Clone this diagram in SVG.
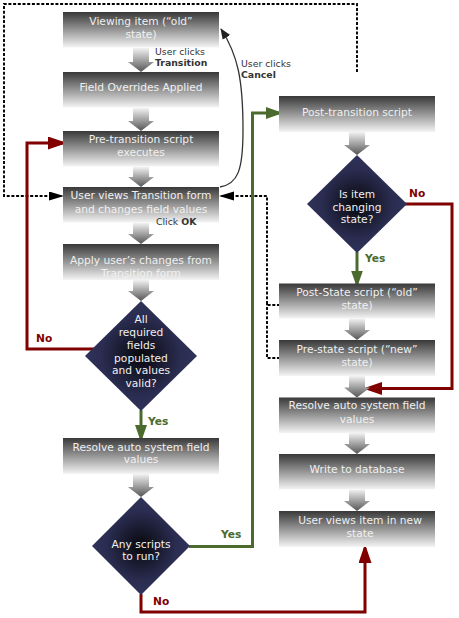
<svg xmlns="http://www.w3.org/2000/svg" width="459" height="618" viewBox="0 0 459 618">
<defs>
<linearGradient id="boxG" x1="0" y1="0" x2="0" y2="1">
<stop offset="0" stop-color="#383838"/>
<stop offset="1" stop-color="#f4f4f4"/>
</linearGradient>
<linearGradient id="arrG" x1="0" y1="0" x2="0" y2="1">
<stop offset="0" stop-color="#f2f2f2"/>
<stop offset="1" stop-color="#555555"/>
</linearGradient>
<radialGradient id="diaG" cx="0.5" cy="0.5" r="0.5">
<stop offset="0" stop-color="#08080c"/>
<stop offset="0.7" stop-color="#2a2c50"/>
<stop offset="1" stop-color="#30335a"/>
</radialGradient>
<marker id="mRed" markerUnits="userSpaceOnUse" markerWidth="20" markerHeight="14" refX="15" refY="6.5" orient="auto">
<path d="M0,0 L19,6.5 L0,13 Z" fill="#800000"/>
</marker>
<marker id="mGreen" markerUnits="userSpaceOnUse" markerWidth="18" markerHeight="13" refX="13" refY="6" orient="auto">
<path d="M0,0 L17,6 L0,12 Z" fill="#4b6a2e"/>
</marker>
<marker id="mBlack" markerUnits="userSpaceOnUse" markerWidth="16" markerHeight="10" refX="14" refY="4.5" orient="auto">
<path d="M0,0 L15,4.5 L0,9 Z" fill="#000"/>
</marker>
<marker id="mCancel" markerUnits="userSpaceOnUse" markerWidth="12" markerHeight="10" refX="10" refY="4.5" orient="auto">
<path d="M0,0 L11,4.5 L0,9 Z" fill="#222"/>
</marker>
</defs>
<style>
.box{fill:url(#boxG)}
.dia{fill:url(#diaG)}
.ga{fill:url(#arrG)}
text{font-family:"DejaVu Sans","Liberation Sans",sans-serif}
.bt{font-size:10.67px;fill:#f0f0f0;text-anchor:middle}
.note{font-size:9.33px;fill:#333}
.b{font-weight:bold}
.no{font-size:10.67px;font-weight:bold;fill:#800000}
.yes{font-size:10.67px;font-weight:bold;fill:#4b6a2e}
.red{fill:none;stroke:#800000;stroke-width:3}
.green{fill:none;stroke:#4b6a2e;stroke-width:3}
.dot{fill:none;stroke:#000;stroke-width:1.9;stroke-dasharray:3 1.7}
.cancel{fill:none;stroke:#333;stroke-width:1.3}
</style>

<g id="connectors">
<path class="dot" d="M357,72 V4 H4 V196 H63" marker-end="url(#mBlack)"/>
<path class="dot" d="M280,305 H267 V196 H220" marker-end="url(#mBlack)"/>
<path class="dot" d="M280,358 H267 V304"/>
<path class="cancel" d="M220,187 C238,184 243,170 243,130 C243,80 238,55 221,29" marker-end="url(#mCancel)"/>
<path class="red" d="M95,349 H27 V143 H63" marker-end="url(#mRed)"/>
<path class="red" d="M405,204 H452 V388.5 H367" marker-end="url(#mRed)"/>
<path class="red" d="M141,594 V612 H365 V548" marker-end="url(#mRed)"/>
<path class="green" d="M141,410 V438" marker-end="url(#mGreen)"/>
<path class="green" d="M189,546.5 H252.5 V113 H279" marker-end="url(#mGreen)"/>
<path class="green" d="M357,252 V283.5" marker-end="url(#mGreen)"/>
<polygon class="ga" points="133,48 149,48 149,62 154,62 141,72 128,62 133,62"/>
<polygon class="ga" points="133,108 149,108 149,121 154,121 141,131 128,121 133,121"/>
<polygon class="ga" points="133,167 149,167 149,177 154,177 141,187 128,177 133,177"/>
<polygon class="ga" points="133,223 149,223 149,234 154,234 141,244 128,234 133,234"/>
<polygon class="ga" points="133,280 149,280 149,291 154,291 141,301 128,291 133,291"/>
<polygon class="ga" points="133,474 149,474 149,487 154,487 141,497 128,487 133,487"/>
<polygon class="ga" points="349,132 365,132 365,145 370,145 357,155 344,145 349,145"/>
<polygon class="ga" points="349,318.5 365,318.5 365,330 370,330 357,340 344,330 349,330"/>
<polygon class="ga" points="349,376 365,376 365,387.5 370,387.5 357,397.5 344,387.5 349,387.5"/>
<polygon class="ga" points="349,433 365,433 365,444 370,444 357,454 344,444 349,444"/>
<polygon class="ga" points="349,489.5 365,489.5 365,501 370,501 357,511 344,501 349,501"/>
</g>

<g id="n-viewing">
<rect class="box" x="63" y="12" width="156" height="35.5"/>
<text class="bt" x="141" y="25">Viewing item (“old”</text>
<text class="bt" x="141" y="37.7">state)</text>
</g>
<g id="n-overrides">
<rect class="box" x="63" y="72" width="156" height="35.5"/>
<text class="bt" x="141" y="91">Field Overrides Applied</text>
</g>
<g id="n-pretransition">
<rect class="box" x="63" y="131" width="156" height="35.5"/>
<text class="bt" x="141" y="143.3">Pre-transition script</text>
<text class="bt" x="141" y="156">executes</text>
</g>
<g id="n-userviews">
<rect class="box" x="63" y="187" width="156" height="35.5"/>
<text class="bt" x="141" y="199.3">User views Transition form</text>
<text class="bt" x="141" y="212.7">and changes field values</text>
</g>
<g id="n-apply">
<rect class="box" x="63" y="244" width="156" height="36"/>
<text class="bt" x="141" y="264">Apply user’s changes from</text>
<text class="bt" x="141" y="276.7">Transition form</text>
</g>
<g id="n-required">
<polygon class="dia" points="141,301 197,356 141,411 85,356"/>
<text class="bt" x="141" y="323.3">All</text>
<text class="bt" x="141" y="336">required</text>
<text class="bt" x="141" y="349">fields</text>
<text class="bt" x="141" y="361.7">populated</text>
<text class="bt" x="141" y="374.3">and values</text>
<text class="bt" x="141" y="387.3">valid?</text>
</g>
<g id="n-resolve1">
<rect class="box" x="63" y="438" width="156" height="36"/>
<text class="bt" x="141" y="451">Resolve auto system field</text>
<text class="bt" x="141" y="463.3">values</text>
</g>
<g id="n-anyscripts">
<polygon class="dia" points="141,497 190,546 141,595 92,546"/>
<text class="bt" x="141" y="547.7">Any scripts</text>
<text class="bt" x="141" y="560">to run?</text>
</g>
<g id="n-posttransition">
<rect class="box" x="279" y="96" width="156" height="36"/>
<text class="bt" x="357" y="116">Post-transition script</text>
</g>
<g id="n-changing">
<polygon class="dia" points="357,155 407,204 357,253 307,204"/>
<text class="bt" x="357" y="198.3">Is item</text>
<text class="bt" x="357" y="211">changing</text>
<text class="bt" x="357" y="223.3">state?</text>
</g>
<g id="n-poststate">
<rect class="box" x="279" y="283.5" width="156" height="35"/>
<text class="bt" x="357" y="296">Post-State script (“old”</text>
<text class="bt" x="357" y="309">state)</text>
</g>
<g id="n-prestate">
<rect class="box" x="279" y="340" width="156" height="36"/>
<text class="bt" x="357" y="352.7">Pre-state script (“new”</text>
<text class="bt" x="357" y="365.7">state)</text>
</g>
<g id="n-resolve2">
<rect class="box" x="279" y="397.5" width="156" height="35.5"/>
<text class="bt" x="357" y="409.3">Resolve auto system field</text>
<text class="bt" x="357" y="422.7">values</text>
</g>
<g id="n-write">
<rect class="box" x="279" y="454" width="156" height="35.5"/>
<text class="bt" x="357" y="473.3">Write to database</text>
</g>
<g id="n-newstate">
<rect class="box" x="279" y="511" width="156" height="36"/>
<text class="bt" x="360" y="524">User views item in new</text>
<text class="bt" x="360" y="536.7">state</text>
</g>

<g id="labels">
<text class="note" x="155" y="55">User clicks</text>
<text class="note b" x="155" y="66">Transition</text>
<text class="note" x="241" y="66.7">User clicks</text>
<text class="note b" x="241" y="77.7">Cancel</text>
<text class="note" x="156" y="224.5">Click <tspan class="b">OK</tspan></text>
<text class="no" x="36" y="341.7">No</text>
<text class="yes" x="148" y="425.3">Yes</text>
<text class="yes" x="221" y="538">Yes</text>
<text class="no" x="153" y="605">No</text>
<text class="no" x="409" y="197.3">No</text>
<text class="yes" x="365" y="262.3">Yes</text>
</g>
</svg>
